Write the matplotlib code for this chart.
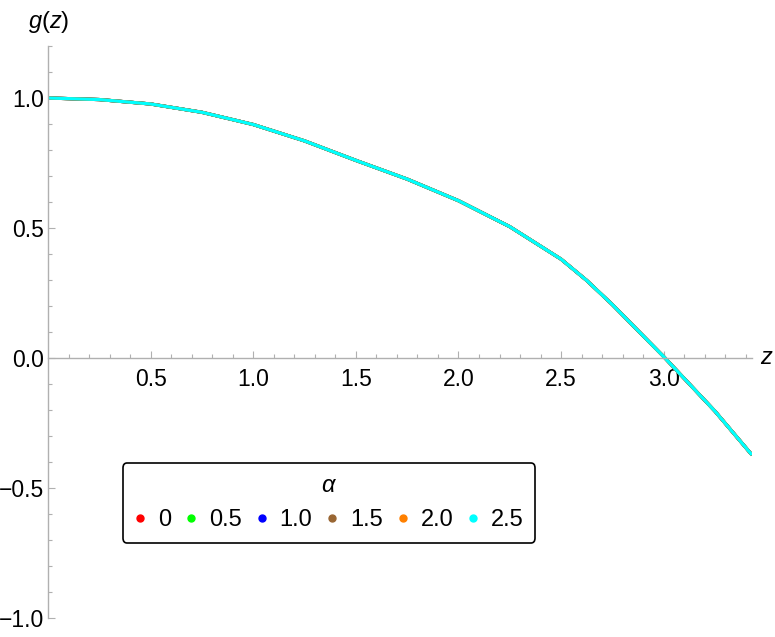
import numpy as np
import matplotlib
matplotlib.use('Agg')
import matplotlib.pyplot as plt
from matplotlib.lines import Line2D

# values (all six curves lie on top of each other)
z_vals = [0.0, 0.25, 0.5, 0.75, 1.0, 1.25, 1.5, 1.75, 2.0, 2.25, 2.5, 2.625, 2.75, 2.875, 3.0, 3.25, 3.43]
g_vals = [1.000, 0.994, 0.977, 0.945, 0.898, 0.835, 0.760, 0.688, 0.605, 0.505, 0.380, 0.298, 0.205, 0.105, 0.005, -0.205, -0.373]
alphas = ['0', '0.5', '1.0', '1.5', '2.0', '2.5']
colors = ['#ff0000', '#00ff00', '#0000ff', '#996633', '#ff8000', '#00ffff']

plt.rcParams['font.family'] = ['Liberation Sans', 'DejaVu Sans']
plt.rcParams['mathtext.fontset'] = 'custom'
plt.rcParams['mathtext.it'] = 'Liberation Sans:italic'
plt.rcParams['mathtext.rm'] = 'Liberation Sans'

W, H = 775, 637
fig = plt.figure(figsize=(W / 100, H / 100), dpi=100)
ax = fig.add_axes([48 / W, (H - 618) / H, (752 - 48) / W, (618 - 46) / H])

for a, c in zip(alphas, colors):
    ax.plot(z_vals, g_vals, color=c, lw=2.3, solid_capstyle='butt')

ax.set_xlim(0, 3.43)
ax.set_ylim(-1.0, 1.2)

for s in ['top', 'right']:
    ax.spines[s].set_visible(False)
ax.spines['left'].set_position(('data', 0))
ax.spines['bottom'].set_position(('data', 0))
for s in ['left', 'bottom']:
    ax.spines[s].set_color('#b0b0b0')
    ax.spines[s].set_linewidth(1.0)

ax.set_xticks([0.5, 1.0, 1.5, 2.0, 2.5, 3.0])
ax.set_xticklabels(['0.5', '1.0', '1.5', '2.0', '2.5', '3.0'])
ax.set_xticks(np.arange(0.1, 3.41, 0.1), minor=True)
ax.set_yticks([-1.0, -0.5, 0.0, 0.5, 1.0])
ax.set_yticklabels(['\u22121.0', '\u22120.5', '0.0', '0.5', '1.0'])
ax.set_yticks(np.arange(-1.0, 1.21, 0.1), minor=True)
ax.tick_params(which='both', direction='in', color='#b0b0b0', width=0.8,
               labelsize=16.5, labelcolor='black')
ax.tick_params(which='major', length=5)
ax.tick_params(which='minor', length=3)
ax.tick_params(axis='x', which='major', pad=7)
ax.tick_params(axis='y', which='major', pad=3)

fig.text(28 / W, 1 - 22 / H, '$g$($z$)', fontsize=17, va='center', ha='left')
fig.text(760 / W, 1 - 358 / H, '$z$', fontsize=17, va='center', ha='left')

handles = [Line2D([], [], ls='none', marker='o', ms=5, color=c) for c in colors]
leg = ax.legend(handles, alphas, ncol=6, title='$\\alpha$', loc='center',
                bbox_to_anchor=(329 / W, 1 - 503 / H), bbox_transform=fig.transFigure,
                fontsize=17, title_fontsize=17, frameon=True, fancybox=True,
                edgecolor='black', handlelength=0.5, handletextpad=0.5,
                columnspacing=0.6, borderpad=0.5, borderaxespad=0)
leg.get_frame().set_linewidth(1.2)
leg.get_frame().set_alpha(1)

fig.savefig('out.png', dpi=100)
